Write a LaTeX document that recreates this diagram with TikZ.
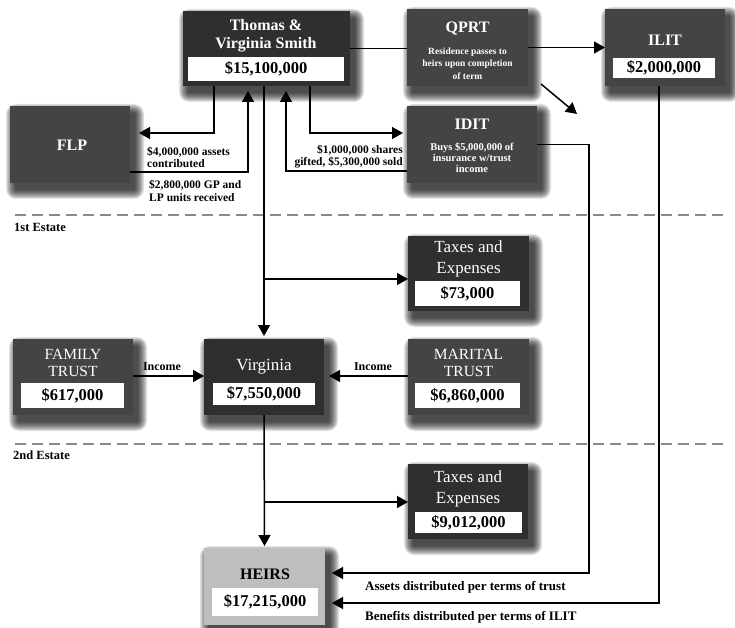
\documentclass[tikz,border=0pt]{standalone}
\usepackage{fontspec}
\setmainfont{Liberation Serif}
\usetikzlibrary{arrows.meta,calc}

\definecolor{boxdark}{HTML}{2F2F2F}
\definecolor{boxmid}{HTML}{444444}
\definecolor{heirsgray}{HTML}{BEBEBE}
\definecolor{rulegray}{HTML}{8A8A8A}

\pgfdeclarelayer{back}
\pgfdeclarelayer{lines}
\pgfdeclarelayer{shade}
\pgfsetlayers{back,lines,shade,main}

\tikzset{
  panel/.style={rectangle, inner sep=0pt, outer sep=0pt},
  darkpanel/.style={panel, fill=boxdark},
  midpanel/.style={panel, fill=boxmid},
  lightpanel/.style={panel, fill=heirsgray},
  valuebox/.style={rectangle, fill=white, inner sep=0pt, text=black,
    font=\fontsize{16.5}{18}\selectfont\bfseries},
  headbold/.style={text=white, align=center, inner sep=0pt,
    font=\fontsize{16}{18}\selectfont\bfseries},
  headplain/.style={text=white, align=center, inner sep=0pt,
    font=\fontsize{17}{21}\selectfont},
  headcaps/.style={text=white, align=center, inner sep=0pt,
    font=\fontsize{15.5}{17}\selectfont},
  boxnote/.style={text=white, align=center, inner sep=0pt,
    font=\fontsize{9.5}{12.5}\selectfont\bfseries},
  smalltag/.style={text=black, inner sep=0pt,
    font=\fontsize{11.5}{11.5}\selectfont\bfseries},
  bigtag/.style={text=black, inner sep=0pt, anchor=west,
    font=\fontsize{13}{14}\selectfont\bfseries},
  plainline/.style={line width=1.5pt, draw=black},
  arrowline/.style={plainline, -{Triangle[length=11pt,width=12pt]}},
  divider/.style={draw=rulegray, line width=2pt, dash pattern=on 11pt off 6pt},
}

% soft drop shadow below and to the right of a named box
\newcommand{\castshadow}[1]{%
  \begin{pgfonlayer}{shade}
    \foreach \r in {0,...,9}{
      \fill[black, opacity=0.11, rounded corners={(\r+1)*1pt}]
        ($(#1.south west)+({5-\r},{7+\r})$) rectangle
        ($(#1.north east)+({5+\r},{7-\r})$);
    }
  \end{pgfonlayer}}

\begin{document}
\begin{tikzpicture}[x=1pt,y=-1pt]
\useasboundingbox (0,0) rectangle (735,628);
\begin{pgfonlayer}{back}
  \fill[white] (0,0) rectangle (735,628);
\end{pgfonlayer}

% ---- boxes ----
\node[darkpanel, minimum width=167pt, minimum height=75pt] (thomas) at (266.5,48.5) {};
\node[headbold] (thomasT) at (266,36) {Thomas \&\\Virginia Smith};
\node[valuebox, minimum width=156pt, minimum height=24pt] (thomasV) at (266,69) {\$15,100,000};

\node[midpanel, minimum width=121pt, minimum height=77pt] (qprt) at (467.5,47.5) {};
\node[headbold] (qprtT) at (467.5,29) {QPRT};
\node[boxnote] (qprtN) at (467.5,63.5) {Residence passes to\\heirs upon completion\\of term};

\node[midpanel, minimum width=120pt, minimum height=77pt] (ilit) at (665,47.5) {};
\node[headbold] (ilitT) at (665,40) {ILIT};
\node[valuebox, minimum width=102pt, minimum height=20pt] (ilitV) at (664,68) {\$2,000,000};

\node[midpanel, minimum width=130pt, minimum height=77pt] (idit) at (472,144.5) {};
\node[headbold] (iditT) at (472,124) {IDIT};
\node[boxnote, font=\fontsize{10.5}{11}\selectfont\bfseries] (iditN) at (472,158) {Buys \$5,000,000 of\\insurance w/trust\\income};

\node[midpanel, minimum width=120pt, minimum height=77pt] (flp) at (70,144.5) {};
\node[headbold] (flpT) at (72,145) {FLP};

\node[darkpanel, minimum width=121pt, minimum height=75pt] (taxesA) at (468.5,273.5) {};
\node[headplain] (taxesAT) at (468.5,258.5) {Taxes and\\Expenses};
\node[valuebox, minimum width=105pt, minimum height=25pt] (taxesAV) at (467.5,293.5) {\$73,000};

\node[darkpanel, minimum width=120pt, minimum height=76pt] (virginia) at (264,377) {};
\node[headplain] (virginiaT) at (264,367) {Virginia};
\node[valuebox, minimum width=102pt, minimum height=22pt] (virginiaV) at (264,394) {\$7,550,000};

\node[midpanel, minimum width=120pt, minimum height=76pt] (family) at (73,377) {};
\node[headcaps] (familyT) at (73,362.5) {FAMILY\\TRUST};
\node[valuebox, minimum width=103pt, minimum height=25pt] (familyV) at (72.5,395.5) {\$617,000};

\node[midpanel, minimum width=121pt, minimum height=76pt] (marital) at (468.5,377) {};
\node[headcaps] (maritalT) at (468.5,362.5) {MARITAL\\TRUST};
\node[valuebox, minimum width=105pt, minimum height=25pt] (maritalV) at (467.5,395.5) {\$6,860,000};

\node[darkpanel, minimum width=120pt, minimum height=75pt] (taxesB) at (468,501.5) {};
\node[headplain] (taxesBT) at (468,488.5) {Taxes and\\Expenses};
\node[valuebox, minimum width=107pt, minimum height=21pt] (taxesBV) at (468.5,522.5) {\$9,012,000};

\node[lightpanel, minimum width=121pt, minimum height=77pt] (heirs) at (264.5,586.5) {};
\node[headbold, text=black] (heirsT) at (265,574) {HEIRS};
\node[valuebox, minimum width=106pt, minimum height=28pt] (heirsV) at (265,602) {\$17,215,000};

\foreach \b in {thomas,qprt,ilit,idit,flp,taxesA,virginia,family,marital,taxesB,heirs}
  {\castshadow{\b}}

% ---- free ends and corners ----
\coordinate (qtail) at (541,84);
\coordinate (qhead) at (577,114);
\coordinate (trustdrop) at (589,573);
\coordinate (ilitdrop) at (659,603);

% ---- dividers and connectors ----
\begin{pgfonlayer}{lines}
  \draw[divider] (15,215) -- (723,215);
  \draw[divider] (15,444) -- (723,444);

  \draw[plainline] (thomas.east) -- (thomas.east -| qprt.west);
  \draw[arrowline] (qprt.east) -- (ilit.west);
  \draw[arrowline] (qtail) -- (qhead);

  \draw[arrowline, shorten >=9pt] ([xshift=-52.5pt]thomas.south) |- (flp.east |- 0,133);
  \draw[arrowline, shorten >=5pt] (flp.east |- 0,172) -| ([xshift=-18.5pt]thomas.south);
  \draw[arrowline, shorten >=4pt] ([xshift=43.5pt]thomas.south) |- (idit.west |- 0,133);
  \draw[arrowline, shorten >=5pt] (idit.west |- 0,171) -| ([xshift=19.5pt]thomas.south);

  \draw[arrowline, shorten >=3pt] (virginia.north |- thomas.south) -- (virginia.north);
  \draw[arrowline] (virginia.north |- 0,279) -- (taxesA.west |- 0,279);

  \draw[arrowline] (family.east |- 0,376) -- (virginia.west |- 0,376);
  \draw[arrowline, shorten >=5pt] (marital.west |- 0,376) -- (virginia.east |- 0,376);

  \draw[arrowline, shorten >=2pt] (virginia.south) -- (heirs.north);
  \draw[arrowline] (virginia.south |- 0,502) -- (taxesB.west |- 0,502);

  \draw[arrowline, shorten >=7pt] (idit.east) -| (trustdrop) -- (heirs.east |- trustdrop);
  \draw[arrowline, shorten >=7pt] (ilit.south -| ilitdrop) |- (heirs.east |- ilitdrop);
\end{pgfonlayer}

% ---- labels ----
\node[smalltag, anchor=west, align=left] (lblA) at (147,157.5) {\$4,000,000 assets\\contributed};
\node[smalltag, anchor=west, align=left, font=\fontsize{11.5}{13}\selectfont\bfseries] (lblB) at (149,190.5) {\$2,800,000 GP and\\LP units received};
\node[smalltag, anchor=east, align=right] (lblC) at (403,156.5) {\$1,000,000 shares\\gifted, \$5,300,000 sold};
\node[smalltag, font=\fontsize{12}{13}\selectfont\bfseries] (incomeL) at (162,367) {Income};
\node[smalltag, font=\fontsize{12}{13}\selectfont\bfseries] (incomeR) at (373,367) {Income};
\node[smalltag, anchor=west, font=\fontsize{12.5}{13}\selectfont\bfseries] (est1) at (14,227) {1st Estate};
\node[smalltag, anchor=west, font=\fontsize{12.5}{13}\selectfont\bfseries] (est2) at (13,455) {2nd Estate};
\node[bigtag] (assetsL) at (365,587) {Assets distributed per terms of trust};
\node[bigtag] (benefitsL) at (365,617) {Benefits distributed per terms of ILIT};
\end{tikzpicture}
\end{document}
